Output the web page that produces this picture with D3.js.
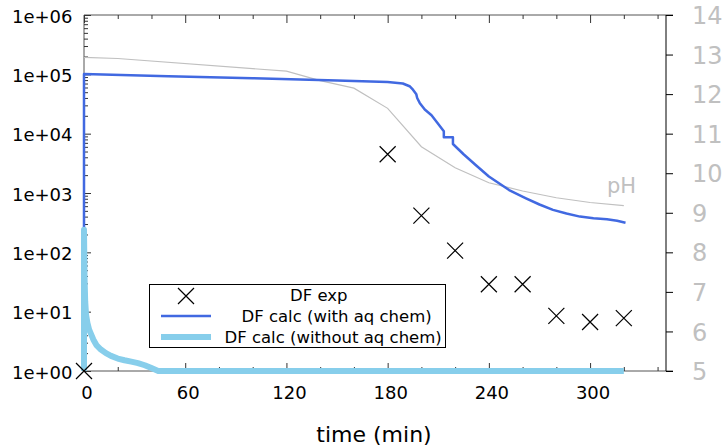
<!DOCTYPE html>
<html><head><meta charset="utf-8">
<script src="https://cdn.jsdelivr.net/npm/d3@7"></script>
<style>
body{margin:0;background:#fff;}
svg{display:block;font-family:"DejaVu Sans",sans-serif;}
</style></head>
<body>
<svg id="chart" width="724" height="446"></svg>
<script>
// ---- data ----
const expTime = [0, 180, 200, 220, 240, 260, 280, 300, 320];
const expDF   = [1, 4500, 415, 107, 29, 29, 8.5, 6.7, 7.8];

const withTime = [0, 0, 50, 100, 150, 180, 189, 193, 195, 197, 197.5, 199, 202, 206, 210, 213.3, 213.3, 218.7, 218.7, 225, 232, 240, 252, 262, 270, 278, 286, 294, 302, 310, 316, 321];
const withDF   = [1, 101000, 93000, 86000, 79000, 74000, 70000, 63000, 55000, 46000, 40000, 33000, 25500, 20500, 14600, 11000, 8700, 8700, 6700, 4500, 3000, 1900, 1120, 815, 640, 520, 450, 400, 375, 360, 340, 316];

const withoutTime = [0, 0, 0.3, 0.7, 1.2, 2, 3, 4, 5.5, 7.5, 10, 13, 16, 20, 24, 28, 32, 36, 40, 44, 320];
const withoutDF   = [1, 240, 40, 15, 9, 6.5, 5, 4.3, 3.4, 2.7, 2.3, 2.0, 1.8, 1.62, 1.52, 1.44, 1.36, 1.25, 1.12, 1.0, 1.0];

const phTime = [0, 20, 120, 140, 160, 180, 200, 220, 240, 260, 280, 300, 320];
const phVal  = [12.93, 12.90, 12.58, 12.34, 12.15, 11.64, 10.67, 10.14, 9.76, 9.55, 9.38, 9.26, 9.18];

const xMajorTicks = [0, 60, 120, 180, 240, 300];
const yDecades = [1, 10, 100, 1000, 1e4, 1e5, 1e6];
const yTickLabels = ["1e+00", "1e+01", "1e+02", "1e+03", "1e+04", "1e+05", "1e+06"];
const phTicks = [5, 6, 7, 8, 9, 10, 11, 12, 13, 14];
const legendLabels = ["DF exp", "DF calc (with aq chem)", "DF calc (without aq chem)"];

// ---- layout ----
const L = 84, R = 666, T = 15, B = 371;
const svg = d3.select("#chart");
const x = d3.scaleLinear().domain([0, 345]).range([L, R]);
const y = d3.scaleLog().domain([1, 1e6]).range([B, T]);
const yp = d3.scaleLinear().domain([5, 14]).range([B, T]);

const xMinor = d3.range(0, 345, 20).filter(v => v % 60 !== 0);
const yMinor = [];
for (let d = 1; d < 1e6; d *= 10) for (let k = 2; k <= 9; k++) yMinor.push(d * k);

const frameCol = "#555";
// frame
svg.append("line").attr("x1", L).attr("x2", 673).attr("y1", T).attr("y2", T).attr("stroke", frameCol);
svg.append("line").attr("x1", L).attr("x2", 673).attr("y1", B).attr("y2", B).attr("stroke", frameCol);
svg.append("line").attr("x1", L).attr("x2", L).attr("y1", T).attr("y2", B).attr("stroke", frameCol);
svg.append("line").attr("x1", R).attr("x2", R).attr("y1", T).attr("y2", B).attr("stroke", "#000");

function styleAxis(g) {
  g.select(".domain").remove();
  g.selectAll(".tick line").attr("stroke", "#333");
}

// bottom axis
const gb = svg.append("g").attr("transform", `translate(0,${B})`)
  .call(d3.axisBottom(x).tickValues(xMajorTicks).tickSize(-8).tickPadding(15).tickFormat(d3.format("d")));
styleAxis(gb);
gb.selectAll("text").attr("font-size", 18).attr("font-family", "DejaVu Sans").attr("fill", "#000").attr("dx", 2.5);
const gbm = svg.append("g").attr("transform", `translate(0,${B})`)
  .call(d3.axisBottom(x).tickValues(xMinor).tickSize(-4).tickFormat(""));
styleAxis(gbm);
// top axis
const gt = svg.append("g").attr("transform", `translate(0,${T})`)
  .call(d3.axisTop(x).tickValues(xMajorTicks).tickSize(-8).tickFormat(""));
styleAxis(gt);
const gtm = svg.append("g").attr("transform", `translate(0,${T})`)
  .call(d3.axisTop(x).tickValues(xMinor).tickSize(-4).tickFormat(""));
styleAxis(gtm);

// left axis
const gl = svg.append("g").attr("transform", `translate(${L},0)`)
  .call(d3.axisLeft(y).tickValues(yDecades).tickSize(-7).tickPadding(11.5)
    .tickFormat((d, i) => yTickLabels[i]));
styleAxis(gl);
gl.selectAll("text").attr("font-size", 18).attr("font-family", "DejaVu Sans").attr("fill", "#000").attr("dy", "0.4em");
const glm = svg.append("g").attr("transform", `translate(${L},0)`)
  .call(d3.axisLeft(y).tickValues(yMinor).tickSize(-4).tickFormat(""));
styleAxis(glm);

// right pH axis
const gr = svg.append("g").attr("transform", `translate(${R},0)`)
  .call(d3.axisRight(yp).tickValues(phTicks).tickSize(7).tickPadding(19).tickFormat(d3.format("d")));
gr.select(".domain").remove();
gr.selectAll(".tick line").attr("stroke", "#000");
gr.selectAll("text").attr("font-size", 24).attr("font-family", "DejaVu Sans").attr("fill", "#c0c0c0").attr("dy", "0.36em");

// x label
svg.append("text").attr("x", 374).attr("y", 442).attr("text-anchor", "middle")
  .attr("font-size", 22).attr("fill", "#000").text("time (min)");

// pH curve
const phLine = d3.line().x(d => x(d[0])).y(d => yp(d[1]));
svg.append("path").datum(phTime.map((t, i) => [t, phVal[i]]))
  .attr("d", phLine).attr("fill", "none").attr("stroke", "#c0c0c0").attr("stroke-width", 1.2);
svg.append("text").attr("x", 607).attr("y", 193).attr("font-size", 21).attr("fill", "#c0c0c0").text("pH");

// DF lines
const dfLine = d3.line().x(d => x(d[0])).y(d => y(d[1]));
svg.append("path").datum(withTime.map((t, i) => [t, withDF[i]]))
  .attr("d", dfLine).attr("fill", "none").attr("stroke", "#4169e1").attr("stroke-width", 2.5)
  .attr("stroke-linejoin", "round");
svg.append("path").datum(withoutTime.map((t, i) => [t, withoutDF[i]]))
  .attr("d", dfLine).attr("fill", "none").attr("stroke", "#87ceeb").attr("stroke-width", 6)
  .attr("stroke-linejoin", "round");

// markers
const cross = "M-8,-8L8,8M-8,8L8,-8";
svg.append("g").selectAll("path").data(expTime.map((t, i) => [t, expDF[i]])).join("path")
  .attr("transform", d => `translate(${x(d[0])},${y(d[1])})`)
  .attr("d", cross).attr("stroke", "#000").attr("stroke-width", 1.2).attr("fill", "none");

// legend
const lg = svg.append("g");
lg.append("rect").attr("x", 149.5).attr("y", 284.5).attr("width", 296).attr("height", 63)
  .attr("fill", "none").attr("stroke", "#000").attr("stroke-width", 1);
lg.append("path").attr("transform", "translate(186,296)").attr("d", cross)
  .attr("stroke", "#000").attr("stroke-width", 1.2);
lg.append("line").attr("x1", 161).attr("x2", 211).attr("y1", 316).attr("y2", 316)
  .attr("stroke", "#4169e1").attr("stroke-width", 2.5);
lg.append("line").attr("x1", 161).attr("x2", 211).attr("y1", 337).attr("y2", 337)
  .attr("stroke", "#87ceeb").attr("stroke-width", 6);
const lx = [290, 241.5, 224.5], ly = [301, 322, 343];
legendLabels.forEach((s, i) => {
  lg.append("text").attr("x", lx[i]).attr("y", ly[i]).attr("font-size", 16.5).attr("fill", "#000").text(s);
});
</script>
</body></html>
